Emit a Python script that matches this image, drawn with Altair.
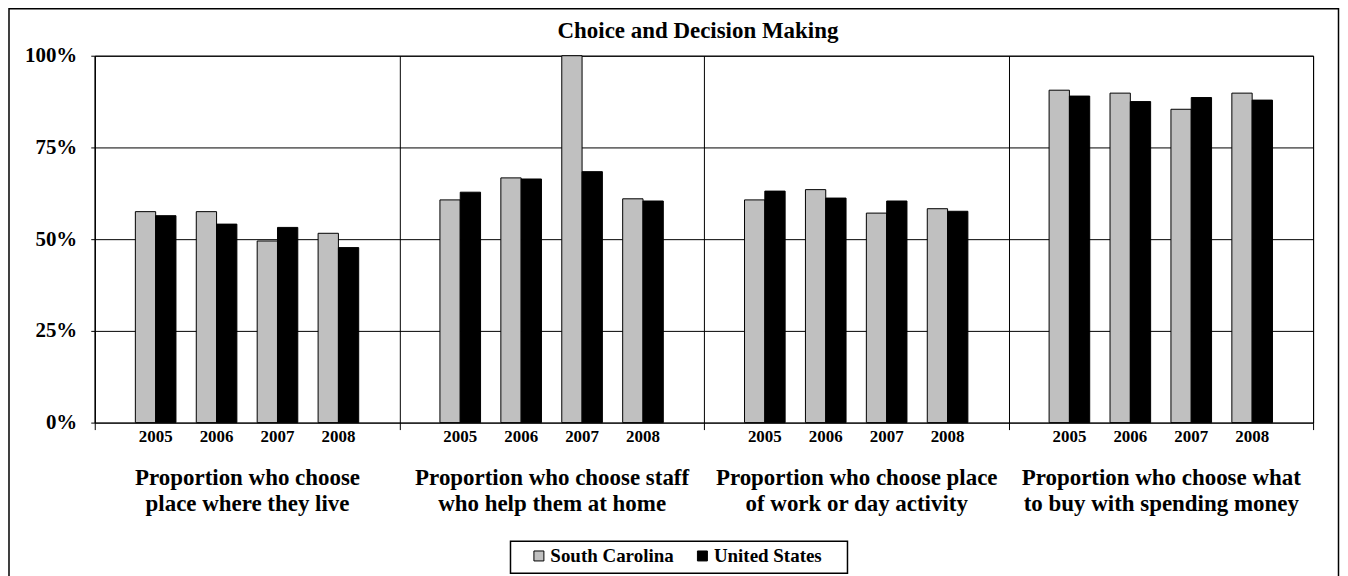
import altair as alt
import pandas as pd

# ---- data ----
title_text = "Choice and Decision Making"
groups = [
    "Proportion who choose\nplace where they live",
    "Proportion who choose staff\nwho help them at home",
    "Proportion who choose place\nof work or day activity",
    "Proportion who choose what\nto buy with spending money",
]
years = ["2005", "2006", "2007", "2008"]
series = ["South Carolina", "United States"]
series_colors = ["#C0C0C0", "#000000"]
sc_values = [
    [57.5, 57.5, 49.5, 51.6],
    [60.7, 66.7, 100.0, 61.0],
    [60.7, 63.5, 57.1, 58.3],
    [90.6, 89.8, 85.4, 89.8],
]
us_values = [
    [56.4, 54.1, 53.2, 47.7],
    [62.8, 66.4, 68.4, 60.4],
    [63.1, 61.2, 60.4, 57.6],
    [89.0, 87.5, 88.6, 87.9],
]
y_ticks = [0, 25, 50, 75, 100]

# ---- tables ----
rows = []
for gi, g in enumerate(groups):
    for yi, yr in enumerate(years):
        for s, vals in zip(series, [sc_values, us_values]):
            rows.append({"group": g, "year": yr, "series": s,
                         "key": f"{yr}|{s}", "value": vals[gi][yi]})
df = pd.DataFrame(rows)

year_rows = [{"group": g, "year": yr, "key": f"{yr}|{series[0]}"}
             for g in groups for yr in years]
df_years = pd.DataFrame(year_rows)

# sub-band domain: two empty slots at each end and one between years
offset_domain = [" a", " b"]
for i, yr in enumerate(years):
    if i > 0:
        offset_domain.append(f" gap{i}")
    for s in series:
        offset_domain.append(f"{yr}|{s}")
offset_domain += [" c", " d"]

# ---- layout / style ----
FONT = "Liberation Serif"
W, H = 1222, 368
PAD = {"left": 87, "top": 47, "right": 27, "bottom": 153}
slot = W / len(groups) / len(offset_domain)

x_enc = alt.X(
    "group:N",
    sort=groups,
    scale=alt.Scale(domain=groups, paddingInner=0, paddingOuter=0),
    axis=alt.Axis(
        title=None, tickBand="extent", grid=True, gridColor="black",
        gridOpacity=1, gridWidth=1, domain=False, ticks=True,
        tickColor="black", tickSize=7, labelAngle=0,
        labelExpr="split(datum.label, '\\n')",
        labelFont=FONT, labelFontWeight="bold", labelFontSize=23,
        labelLineHeight=26, labelPadding=37, labelColor="black",
        labelBaseline="top", labelLimit=400, labelOverlap=False,
    ),
)
xoff_enc = alt.XOffset(
    "key:N", scale=alt.Scale(domain=offset_domain, paddingInner=0, paddingOuter=0)
)
y_enc = alt.Y(
    "value:Q",
    scale=alt.Scale(domain=[0, 100], nice=False),
    axis=alt.Axis(
        title=None, values=y_ticks, labelExpr="datum.value + '%'",
        grid=True, gridColor="black", gridOpacity=1, gridWidth=1,
        domain=True, domainColor="black", tickColor="black", tickSize=4,
        labelPadding=14, labelFont=FONT, labelFontWeight="bold",
        labelFontSize=21, labelColor="black",
    ),
)

bars = alt.Chart(df).mark_bar(stroke="black", strokeWidth=1).encode(
    x=x_enc,
    xOffset=xoff_enc,
    y=y_enc,
    color=alt.Color(
        "series:N",
        scale=alt.Scale(domain=series, range=series_colors),
        legend=alt.Legend(
            title=None, orient="none", legendX=432, legendY=488,
            direction="horizontal", padding=4,
            symbolType="square", symbolSize=100,
            symbolStrokeColor="black", symbolStrokeWidth=1,
            labelFont=FONT, labelFontWeight="bold", labelFontSize=19,
            labelColor="black", columnPadding=19, labelOffset=2,
        ),
    ),
)

year_text = alt.Chart(df_years).mark_text(
    font=FONT, fontWeight="bold", fontSize=17, color="black",
    baseline="alphabetic", dx=slot / 2,
).encode(
    x=x_enc,
    xOffset=xoff_enc,
    y=alt.value(H + 19),
    text="year:N",
)

title_mark = alt.Chart(pd.DataFrame({"t": [title_text]})).mark_text(
    font=FONT, fontWeight="bold", fontSize=23, color="black",
    align="center", baseline="alphabetic",
).encode(
    x=alt.value(W / 2 - 6),
    y=alt.value(-18),
    text="t:N",
)

frame = alt.Chart(pd.DataFrame({"f": [0]})).mark_rect(
    fillOpacity=0, stroke="black", strokeWidth=1.5
).encode(
    x=alt.value(-86),
    x2=alt.value(W + 25.5),
    y=alt.value(-47),
    y2=alt.value(H + 200),
)

legend_box = alt.Chart(pd.DataFrame({"f": [0]})).mark_rect(
    fill="white", stroke="black", strokeWidth=1.5
).encode(
    x=alt.value(417),
    x2=alt.value(755),
    y=alt.value(487),
    y2=alt.value(519),
)

chart = (
    alt.layer(frame, legend_box, bars, year_text, title_mark)
    .properties(
        width=W,
        height=H,
        padding=PAD,
        autosize=alt.AutoSizeParams(type="none"),
    )
    .configure_view(stroke="black", strokeWidth=1)
)

chart.save("out.html", embed_options={"renderer": "svg", "actions": False})
